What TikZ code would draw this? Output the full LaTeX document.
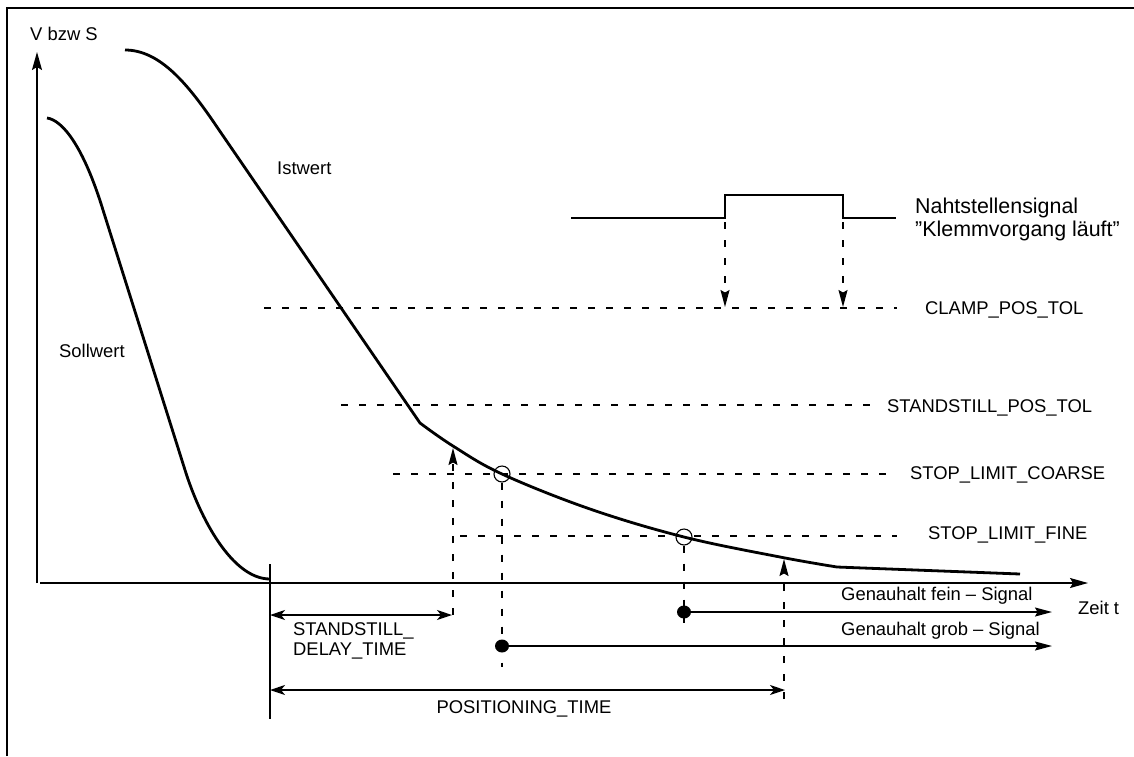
\documentclass[tikz,border=0pt]{standalone}
\usepackage{fontspec}
\setmainfont{Liberation Sans}
\usetikzlibrary{arrows.meta,shapes.geometric}
\begin{document}
\begin{tikzpicture}[x=1pt,y=-1pt,
  lbl/.style={anchor=base west,inner sep=0pt,font=\fontsize{18.4}{23}\selectfont},
  biglbl/.style={anchor=base west,inner sep=0pt,font=\fontsize{21.4}{23}\selectfont},
  curve/.style={line width=2.8pt,line join=round},
  axis/.style={line width=1.5pt},
  dsh/.style={line width=1.3pt,dash pattern=on 7pt off 11pt},
  tipA/.style={-{Stealth[length=18pt,width=10pt,inset=3pt]}},
  tipB/.style={-{Stealth[length=17pt,width=9pt,inset=2.5pt]}},
  dimarrow/.style={line width=1.4pt,{Stealth[length=15pt,width=10pt,inset=4pt]}-{Stealth[length=15pt,width=10pt,inset=4pt]}},
]
\useasboundingbox (0,0) rectangle (1134,756);
\fill[white] (0,0) rectangle (1134,756);
% frame
\draw[line width=2pt] (7,756) -- (7,8) -- (1134,8);
% axes
\coordinate (O) at (37,583);
\coordinate (ytip) at (37,52);
\coordinate (xs) at (40,583);
\coordinate (xtip) at (1088,583);
\draw[axis,tipA] (O) -- (ytip);
\draw[axis,tipA] (xs) -- (xtip);
\coordinate (t0a) at (270,564);
\coordinate (t0b) at (270,719);
\draw[axis] (t0a) -- (t0b);
% Sollwert
\draw[curve] (47,118) .. controls (62,120) and (83,145) .. (103,210) -- (185,470) .. controls (200,518) and (232,579) .. (270,579);
% Istwert
\draw[curve] (125,50) .. controls (160,50) and (188,84) .. (217,127) -- (420,423)
  -- plot[smooth,tension=0.6] coordinates {(420,423) (453,446) (502,474) (590,509) (684,537) (780,557) (837,567)} -- (1020,574);
% signal
\draw[line width=2.6pt] (571,218) -- (725,218) -- (725,195) -- (843,195) -- (843,218) -- (896,218);
\coordinate (s1) at (725,222); \coordinate (s1e) at (725,307);
\coordinate (s2) at (843,222); \coordinate (s2e) at (843,307);
\draw[dsh,tipB] (s1) -- (s1e);
\draw[dsh,tipB] (s2) -- (s2e);
% tolerance lines
\draw[dsh] (264,308) -- (897,308);
\draw[dsh] (341,405) -- (875,405);
\draw[dsh] (393,474) -- (897,474);
\draw[dsh] (460,536) -- (897,536);
% circles
\node[circle,draw,line width=1.1pt,minimum size=16pt,inner sep=0pt] (c1) at (502,474) {};
\node[circle,draw,line width=1.1pt,minimum size=16pt,inner sep=0pt] (c2) at (684,537) {};
% dots
\node[ellipse,fill,minimum width=14pt,minimum height=13pt,inner sep=0pt] (d1) at (502,646) {};
\node[ellipse,fill,minimum width=14pt,minimum height=13pt,inner sep=0pt] (d2) at (684,612) {};
\coordinate (d1e) at (1052,646);
\coordinate (d2e) at (1052,612);
\draw[dsh] (c1.south) -- (502,667);
\draw[dsh] (c2.south) -- (684,623);
\draw[line width=1.4pt,tipB] (d1.center) -- (d1e);
\draw[line width=1.4pt,tipB] (d2.center) -- (d2e);
% up arrows
\coordinate (u1a) at (453,615); \coordinate (u1b) at (453,448);
\coordinate (u2a) at (784,699); \coordinate (u2b) at (784,559);
\draw[dsh,tipB] (u1a) -- (u1b);
\draw[dsh,tipB] (u2a) -- (u2b);
% dimension arrows
\coordinate (da) at (270,615); \coordinate (db) at (452,615);
\coordinate (pa) at (270,690); \coordinate (pb) at (785,690);
\draw[dimarrow] (da) -- (db);
\draw[dimarrow] (pa) -- (pb);
% labels
\node[lbl] (lv) at (30,40) {V bzw S};
\node[lbl] (list) at (277,174) {Istwert};
\node[lbl] (lsoll) at (59,357) {Sollwert};
\node[biglbl] (lnaht) at (915,213) {Nahtstellensignal};
\node[biglbl] (lklemm) at (915,236) {”Klemmvorgang läuft”};
\node[lbl] (lclamp) at (925,314) {CLAMP\_POS\_TOL};
\node[lbl] (lstand) at (887,412) {STANDSTILL\_POS\_TOL};
\node[lbl] (lcoarse) at (910,479) {STOP\_LIMIT\_COARSE};
\node[lbl] (lfine) at (928,539) {STOP\_LIMIT\_FINE};
\node[lbl] (lgf) at (841,600) {Genauhalt fein – Signal};
\node[lbl] (lgg) at (841,635) {Genauhalt grob – Signal};
\node[lbl] (lzeit) at (1078,614) {Zeit t};
\node[lbl] (lsd1) at (293,635) {STANDSTILL\_};
\node[lbl] (lsd2) at (293,655) {DELAY\_TIME};
\node[lbl,anchor=base] (lpos) at (524,713) {POSITIONING\_TIME};
\end{tikzpicture}
\end{document}
